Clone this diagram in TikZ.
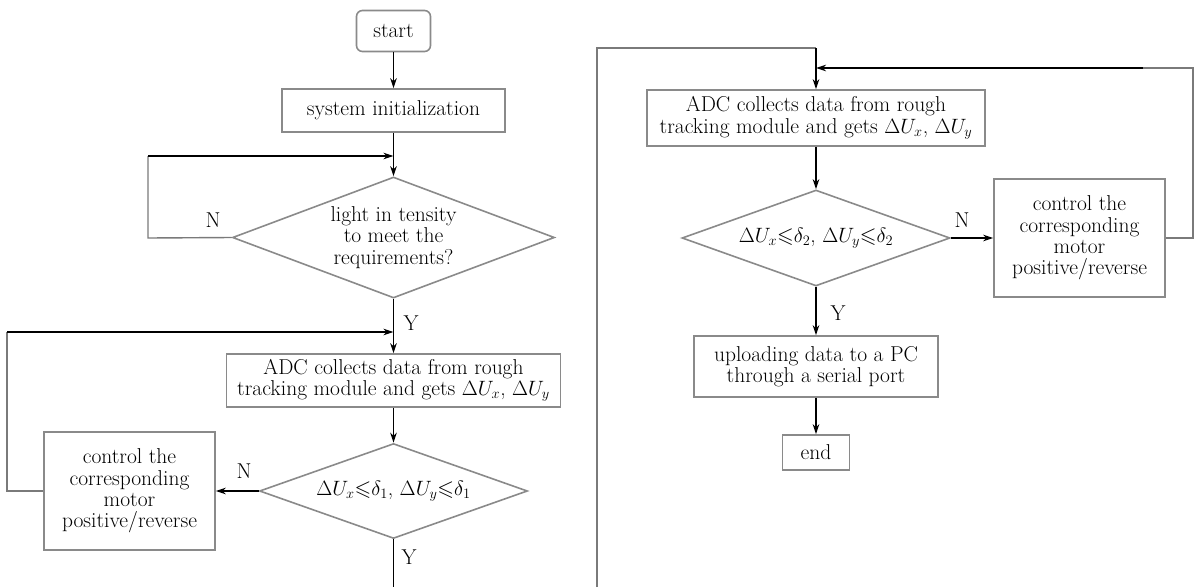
\documentclass[tikz,border=0pt]{standalone}
\usepackage{amssymb}
\usetikzlibrary{shapes.geometric,arrows.meta}
\definecolor{boxgray}{HTML}{8A8A8A}
\definecolor{linegray}{HTML}{7A7A7A}
\newcommand{\dU}[1]{\Delta U_{#1}}
\begin{document}
\begin{tikzpicture}[x=1pt,y=-1pt,
  font=\fontsize{21.5}{21.3}\selectfont,
  box/.style={draw=boxgray,line width=1.6pt,align=center,inner sep=0pt,fill=white},
  dia/.style={draw=boxgray,line width=1.6pt,shape=diamond,align=center,inner sep=0pt},
  arr/.style={draw=black,line width=1.2pt,-{Stealth[length=10pt,width=6.5pt,inset=3pt]}},
  bline/.style={draw=black,line width=1.2pt},
  gline/.style={draw=linegray,line width=1.4pt},
  lab/.style={inner sep=0pt}]
\useasboundingbox (0,0) rectangle (1203,587);

% ---------- left column ----------
\node[box,rounded corners=6pt,minimum width=74pt,minimum height=41pt] (start) at (393.5,31) {start};
\node[box,minimum width=223pt,minimum height=43pt] (init) at (393.5,110.5) {system initialization};
\node[dia,aspect=2.66,minimum width=322pt,minimum height=121pt] (d1) at (393.5,237.5) {light in tensity\\to meet the\\requirements?};
\node[box,minimum width=334pt,minimum height=53pt] (adc1) at (393.5,380.5) {ADC collects data from rough\\tracking module and gets $\dU{x}$, $\dU{y}$};
\node[dia,aspect=2.85,minimum width=268pt,minimum height=95pt] (d2) at (393.5,491) {$\dU{x}{\leqslant}\delta_1$, $\dU{y}{\leqslant}\delta_1$};
\node[box,minimum width=171pt,minimum height=118pt] (ctl1) at (129.5,491) {control the\\corresponding\\motor\\positive/reverse};

\node[lab] (n1) at (213,220) {N};
\node[lab] (y1) at (411,323) {Y};
\node[lab] (n2) at (244,471) {N};
\node[lab] (y2) at (409,557) {Y};

\coordinate (l1a) at (148,238);
\coordinate (l1b) at (148,156);
\coordinate (j1) at (393.5,156);
\coordinate (l2a) at (7,491);
\coordinate (l2b) at (7,332);
\coordinate (j2) at (393.5,332);
\coordinate (exit1) at (393.5,587);

\draw[arr] (start) -- (init);
\draw[arr] (init) -- (d1);
\draw[gline] (d1.west) -- (l1a) -- (l1b);
\draw[arr] (l1b) -- (j1);
\draw[arr] (d1.south) -- (adc1.north);
\draw[gline] (ctl1.west) -- (l2a) -- (l2b);
\draw[arr] (l2b) -- (j2);
\draw[arr] (adc1) -- (d2);
\draw[arr] (d2.west) -- (ctl1.east);
\draw[bline] (d2.south) -- (exit1);

% ---------- right column ----------
\node[box,minimum width=338pt,minimum height=56pt] (adc2) at (816,118) {ADC collects data from rough\\tracking module and gets $\dU{x}$, $\dU{y}$};
\node[dia,aspect=2.8,minimum width=268pt,minimum height=96pt] (d3) at (816,238) {$\dU{x}{\leqslant}\delta_2$, $\dU{y}{\leqslant}\delta_2$};
\node[box,minimum width=171pt,minimum height=118pt] (ctl2) at (1079.5,238) {control the\\corresponding\\motor\\positive/reverse};
\node[box,minimum width=244pt,minimum height=61pt] (up) at (816,366.5) {uploading data to a PC\\through a serial port};
\node[box,minimum width=67pt,minimum height=35pt] (end) at (816,452.5) {end};

\node[lab] (n3) at (962,220) {N};
\node[lab] (y3) at (838,313) {Y};

\coordinate (r0) at (597,587);
\coordinate (r1) at (597,48);
\coordinate (r2) at (816,48);
\coordinate (r3) at (1193,238);
\coordinate (r4) at (1193,68);
\coordinate (r5) at (1143,68);
\coordinate (r6) at (816,68);

\draw[gline] (r0) -- (r1) -- (r2);
\draw[arr] (r2) -- (adc2.north);
\draw[gline] (ctl2.east) -- (r3) -- (r4) -- (r5);
\draw[arr] (r5) -- (r6);
\draw[arr] (adc2) -- (d3);
\draw[arr] (d3.east) -- (ctl2.west);
\draw[arr] (d3.south) -- (up.north);
\draw[arr] (up) -- (end);
\end{tikzpicture}
\end{document}
